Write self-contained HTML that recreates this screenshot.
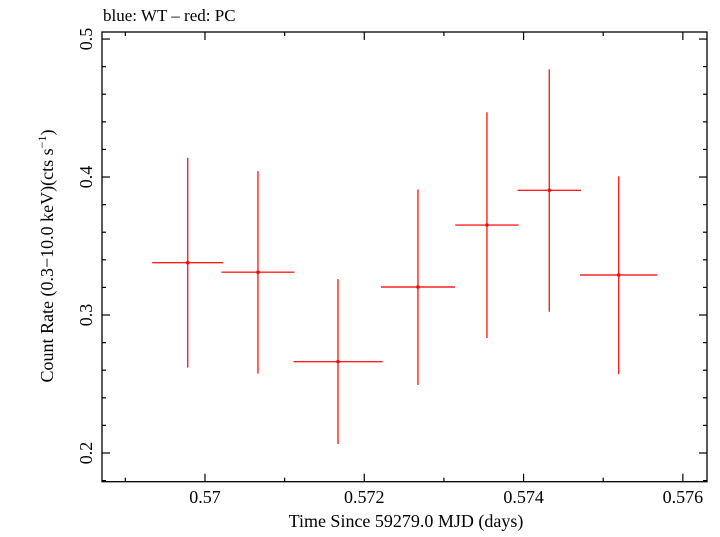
<!DOCTYPE html>
<html><head><meta charset="utf-8"><style>
body{margin:0;background:#fff}
svg text{font-family:"Liberation Serif",serif;fill:#000}
</style></head><body>
<svg id="chart" width="720" height="532" xmlns="http://www.w3.org/2000/svg">
<text x="103" y="21" font-size="17">blue: WT – red: PC</text>
<g id="axes"></g>
<g id="marks"></g>
<text x="406" y="527" font-size="18" text-anchor="middle">Time Since 59279.0 MJD (days)</text>
<text transform="translate(53,256) rotate(-90)" font-size="18" text-anchor="middle">Count Rate (0.3−10.0 keV)(cts s<tspan dy="-7" font-size="12">−1</tspan><tspan dy="7">)</tspan></text>
</svg>
<script>
const times=[0.569783,0.570665,0.571670,0.572674,0.573540,0.574323,0.575194];
const timeErr=[0.000446,0.000458,0.000559,0.000465,0.000398,0.000399,0.000486];
const rates=[0.3379,0.331,0.2662,0.3203,0.3652,0.3904,0.329];
const rateErrLo=[0.0759,0.0735,0.0597,0.071,0.0819,0.088,0.0718];
const rateErrHi=[0.0761,0.0733,0.0598,0.0707,0.0817,0.0876,0.0715];
const xTicks=["0.57","0.572","0.574","0.576"];
const yTicks=["0.2","0.3","0.4","0.5"];
const L=102,R=707,T=32,B=481.7;
const X0=0.568707,X1=0.576303,Y0=0.1792,Y1=0.5051;
const sx=t=>L+(t-X0)/(X1-X0)*(R-L);
const sy=v=>B-(v-Y0)/(Y1-Y0)*(B-T);
const NS="http://www.w3.org/2000/svg";
function mk(tag,attrs,parent){const e=document.createElementNS(NS,tag);for(const k in attrs)e.setAttribute(k,attrs[k]);parent.appendChild(e);return e;}
const ax=document.getElementById('axes'),mg=document.getElementById('marks');
const frame=mk('rect',{x:L,y:T,width:R-L,height:B-T,fill:'none',stroke:'#000','stroke-width':1.3},ax);


// x ticks
for(let t=0.569;t<=0.5763;t+=0.001){
  const major=Math.round(t*1000)%2===0;const x=sx(t);const len=major?8:4;
  const a=mk('line',{x1:x,x2:x,y1:B,y2:B-len,stroke:'#000','stroke-width':1.2},ax);
  
  
  const b=mk('line',{x1:x,x2:x,y1:T,y2:T+len,stroke:'#000','stroke-width':1.2},ax);
  
  
}
xTicks.forEach(s=>{const tx=mk('text',{x:sx(parseFloat(s)),y:503,'font-size':18,'text-anchor':'middle'},ax);tx.textContent=s;
  
  });
for(let v=0.18;v<=0.505;v+=0.02){
  const major=Math.abs(Math.round(v*10)-v*10)<1e-6;const y=sy(v);const len=major?8:4;
  const a=mk('line',{x1:L,x2:L+len,y1:y,y2:y,stroke:'#000','stroke-width':1.2},ax);
  
  
  const b=mk('line',{x1:R,x2:R-len,y1:y,y2:y,stroke:'#000','stroke-width':1.2},ax);
  
  
}
yTicks.forEach(s=>{const y=sy(parseFloat(s));const tx=mk('text',{transform:`translate(92,${y}) rotate(-90)`,'font-size':18,'text-anchor':'middle'},ax);tx.textContent=s;
  
  });
times.forEach((t,i)=>{
  const g=mk('g',{stroke:'#ff2020','stroke-width':1.4},mg);
  
  
  mk('line',{x1:sx(t-timeErr[i]),x2:sx(t+timeErr[i]),y1:sy(rates[i]),y2:sy(rates[i])},g);
  mk('line',{x1:sx(t),x2:sx(t),y1:sy(rates[i]+rateErrHi[i]),y2:sy(rates[i]-rateErrLo[i])},g);
  mk('rect',{x:sx(t)-1.5,y:sy(rates[i])-1.5,width:3,height:3,fill:'#ff0000',stroke:'none'},g);
});
</script>
</body></html>
